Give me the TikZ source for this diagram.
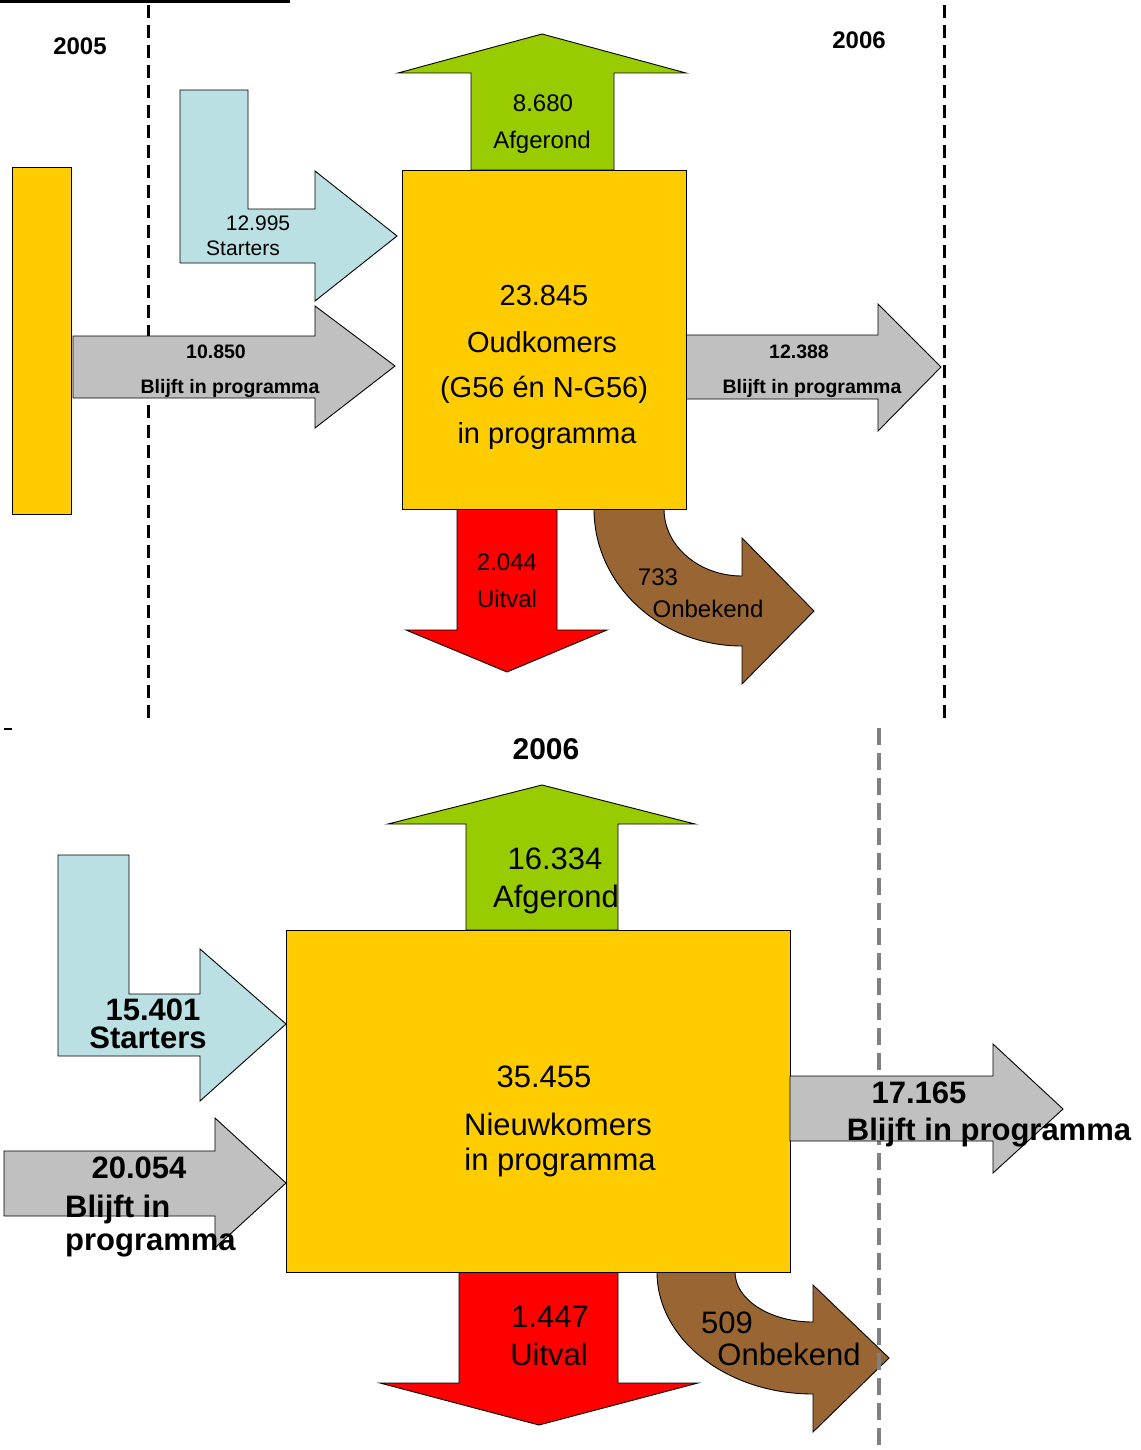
\documentclass[tikz,border=0pt]{standalone}
\usepackage{fontspec}
\setmainfont{Liberation Sans}
\definecolor{cyel}{HTML}{FFCC00}
\definecolor{cgrn}{HTML}{99CC00}
\definecolor{cblu}{HTML}{BAE0E3}
\definecolor{cgry}{HTML}{C0C0C0}
\definecolor{cred}{HTML}{FF0000}
\definecolor{cbrn}{HTML}{996633}
\definecolor{cdash}{HTML}{808080}
\tikzset{
  shp/.style={draw=black, line width=0.9},
  yearline/.style={line width=3, dash pattern=on 13 off 7},
  greyline/.style={line width=4, dash pattern=on 17 off 8, draw=cdash},
  lbl/.style={anchor=base, inner sep=0pt},
  tsm/.style={lbl, font=\fontsize{21}{24}\selectfont},
  tsb/.style={lbl, font=\fontsize{19.5}{24}\selectfont\bfseries},
  tmd/.style={lbl, font=\fontsize{24}{28}\selectfont},
  tbig/.style={lbl, font=\fontsize{29}{34}\selectfont},
  tlg/.style={lbl, font=\fontsize{31}{36}\selectfont},
  tlgb/.style={lbl, font=\fontsize{31}{36}\selectfont\bfseries},
  tyr/.style={lbl, font=\fontsize{24}{28}\selectfont\bfseries},
}
\begin{document}
\begin{tikzpicture}[x=1pt,y=-1pt]
\useasboundingbox (0,0) rectangle (1140,1450);
% ---------- top part ----------
\draw[line width=3] (0,2) -- (290,2);
\draw[yearline] (148,5) -- (148,722);
\draw[yearline] (944,5) -- (944,722);
\draw[line width=1.5] (4,729) -- (12,729);
\node[tyr] (y2005) at (80,55) {2005};
\node[tyr] (y2006a) at (859,49) {2006};
% left yellow bar
\draw[shp, fill=cyel] (12,167) rectangle (71,514);
% starters L-arrow
\draw[shp, fill=cblu] (180,90) -- (248,90) -- (248,209) -- (315,209) -- (315,171)
  -- (397,236) -- (315,301) -- (315,263) -- (180,263) -- cycle;
% gray arrow in
\draw[shp, fill=cgry] (73,336) -- (315,336) -- (315,306) -- (395,366) -- (315,428)
  -- (315,398) -- (73,398) -- cycle;
% green arrow up
\draw[shp, fill=cgrn] (471,170) -- (471,73) -- (398,73) -- (542,34) -- (686,73)
  -- (614,73) -- (614,170) -- cycle;
% gray arrow out
\draw[shp, fill=cgry] (686,335) -- (878,335) -- (878,304) -- (941,367) -- (878,431)
  -- (878,399) -- (686,399) -- cycle;
% red arrow down
\draw[shp, fill=cred] (457,509) -- (557,509) -- (557,630) -- (607,630) -- (507,672)
  -- (406,630) -- (457,630) -- cycle;
% brown curved arrow
\draw[shp, fill=cbrn] (594,509) arc[start angle=180, end angle=90, x radius=148, y radius=137]
  -- (742,684) -- (814,611) -- (742,538) -- (742,576)
  arc[start angle=90, end angle=180, x radius=78, y radius=67] -- cycle;
% main box
\draw[shp, fill=cyel] (402,170) rectangle (686,509);
\node[tsm] (st1) at (258,230) {12.995};
\node[tsm] (st2) at (243,255) {Starters};
\node[tsb] (bl1) at (216,358) {10.850};
\node[tsb] (bl2) at (230,393) {Blijft in programma};
\node[tsb] (br1) at (799,358) {12.388};
\node[tsb] (br2) at (812,393) {Blijft in programma};
\node[tmd] (af1) at (543,112) {8.680};
\node[tmd] (af2) at (542,149) {Afgerond};
\node[tbig] (ok1) at (544,305) {23.845};
\node[tbig] (ok2) at (542,352) {Oudkomers};
\node[tbig] (ok3) at (544,397) {(G56 én N-G56)};
\node[tbig] (ok4) at (547,443) {in programma};
\node[tmd] (ui1) at (507,570) {2.044};
\node[tmd] (ui2) at (507,607) {Uitval};
\node[tmd] (on1) at (658,585) {733};
\node[tmd] (on2) at (708,617) {Onbekend};
% ---------- bottom part ----------
\node[lbl, font=\fontsize{30}{34}\selectfont\bfseries] (y2006b) at (546,759) {2006};
% starters L-arrow
\draw[shp, fill=cblu] (58,855) -- (129,855) -- (129,994) -- (200,994) -- (200,949)
  -- (286,1024) -- (200,1101) -- (200,1056) -- (58,1056) -- cycle;
% gray arrow in
\draw[shp, fill=cgry] (4,1151) -- (215,1151) -- (215,1118) -- (286,1183) -- (215,1248)
  -- (215,1216) -- (4,1216) -- cycle;
% green arrow up
\draw[shp, fill=cgrn] (466,930) -- (466,824) -- (388,824) -- (542,785) -- (695,824)
  -- (618,824) -- (618,930) -- cycle;
% red arrow down
\draw[shp, fill=cred] (459,1272) -- (618,1272) -- (618,1383) -- (698,1383) -- (539,1425)
  -- (380,1383) -- (459,1383) -- cycle;
% brown curved arrow
\draw[shp, fill=cbrn] (657,1272) arc[start angle=180, end angle=90, x radius=156, y radius=122]
  -- (813,1432) -- (889,1358) -- (813,1285) -- (813,1322)
  arc[start angle=90, end angle=180, x radius=78, y radius=50] -- cycle;
% main box
\draw[shp, fill=cyel] (286,930) rectangle (790,1272);
% gray dashed year line
\draw[greyline] (879,728) -- (879,1450);
% gray arrow out
\draw[shp, fill=cgry] (790,1076) -- (993,1076) -- (993,1044) -- (1063,1109) -- (993,1173)
  -- (993,1141) -- (790,1141) -- cycle;
\node[tlgb] (bs1) at (153,1020) {15.401};
\node[tlgb] (bs2) at (148,1048) {Starters};
\node[tlgb] (bg1) at (139,1178) {20.054};
\node[tlgb, anchor=base west] (bg2) at (65,1217) {Blijft in};
\node[tlgb, anchor=base west] (bg3) at (65,1250) {programma};
\node[tlg] (ba1) at (555,869) {16.334};
\node[tlg] (ba2) at (556,907) {Afgerond};
\node[tlg] (nk1) at (544,1087) {35.455};
\node[tlg] (nk2) at (558,1135) {Nieuwkomers};
\node[tlg] (nk3) at (560,1170) {in programma};
\node[tlgb] (bo1) at (919,1103) {17.165};
\node[tlgb] (bo2) at (989,1140) {Blijft in programma};
\node[tlg] (bu1) at (550,1327) {1.447};
\node[tlg] (bu2) at (549,1365) {Uitval};
\node[tlg] (bn1) at (727,1333) {509};
\node[tlg] (bn2) at (789,1365) {Onbekend};
\end{tikzpicture}
\end{document}
